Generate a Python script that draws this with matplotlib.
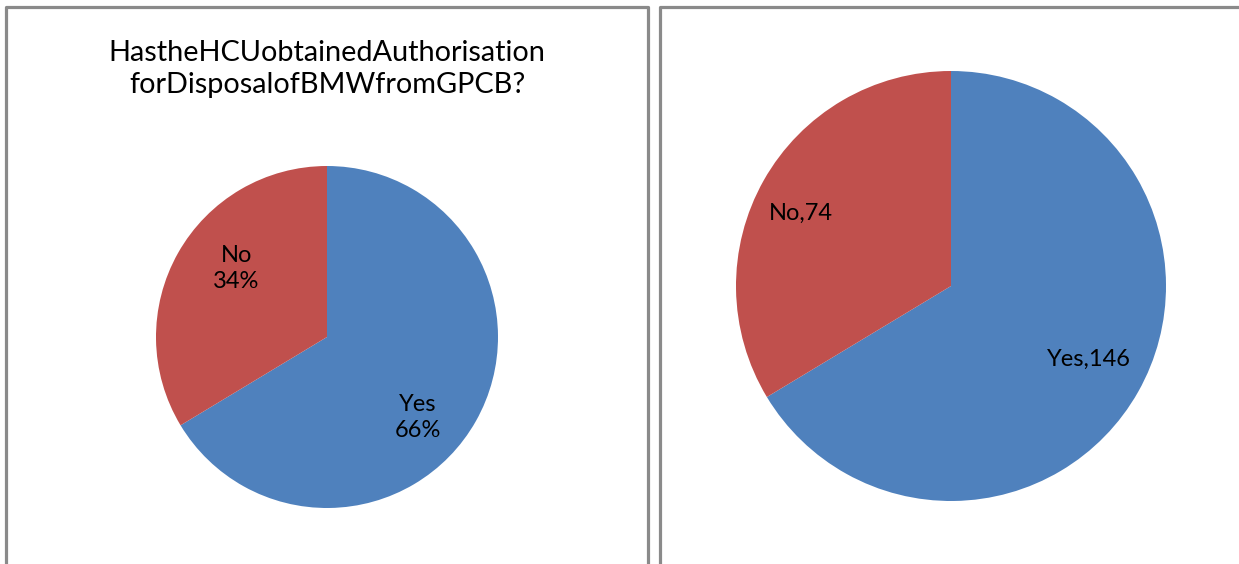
import matplotlib.pyplot as plt
from matplotlib.lines import Line2D

categories = ["Yes", "No"]
counts = [146, 74]
colors = ["#4F81BD", "#C0504D"]
title = "HastheHCUobtainedAuthorisation\nforDisposalofBMWfromGPCB?"

plt.rcParams['font.family'] = ['Lato', 'DejaVu Sans']

fig = plt.figure(figsize=(12.39, 5.64), dpi=100)

# panel borders (top, left, right edges only, like the cropped screenshot)
border = dict(color="#8a8a8a", linewidth=2.3, transform=fig.transFigure)
W, H = 1239, 564
def fx(px): return px / W
def fy(py): return 1 - py / H
fig.add_artist(Line2D([fx(6), fx(6), fx(648), fx(648)], [fy(600), fy(7), fy(7), fy(600)], **border))
fig.add_artist(Line2D([fx(660), fx(660), fx(1245)], [fy(600), fy(7), fy(7)], **border))

total = sum(counts)

# left pie: percentages
ax1 = fig.add_axes([fx(327 - 171), fy(337 + 171), fx(342), 342 / H])
ax1.pie(counts, colors=colors, startangle=90, counterclock=False,
        wedgeprops=dict(linewidth=0))
ax1.set_xlim(-1, 1)
ax1.set_ylim(-1, 1)
ax1.set_aspect('equal')
ax1.axis('off')
pct = [round(c / total * 100) for c in counts]
label_pos1 = [(0.53, -0.47), (-0.53, 0.40)]
for cat, p, (x, y) in zip(categories, pct, label_pos1):
    ax1.text(x, y, f"{cat}\n{p}%", ha='center', va='center', fontsize=17,
             linespacing=1.3)
fig.text(fx(327), fy(69), title, ha='center', va='center', fontsize=20.8,
         linespacing=1.3)

# right pie: counts
ax2 = fig.add_axes([fx(951 - 215), fy(286 + 215), fx(430), 430 / H])
ax2.pie(counts, colors=colors, startangle=90, counterclock=False,
        wedgeprops=dict(linewidth=0))
ax2.set_xlim(-1, 1)
ax2.set_ylim(-1, 1)
ax2.set_aspect('equal')
ax2.axis('off')
label_pos2 = [(0.64, -0.34), (-0.70, 0.34)]
for cat, c, (x, y) in zip(categories, counts, label_pos2):
    ax2.text(x, y, f"{cat},{c}", ha='center', va='center', fontsize=17)

fig.savefig("out.png", dpi=100)
